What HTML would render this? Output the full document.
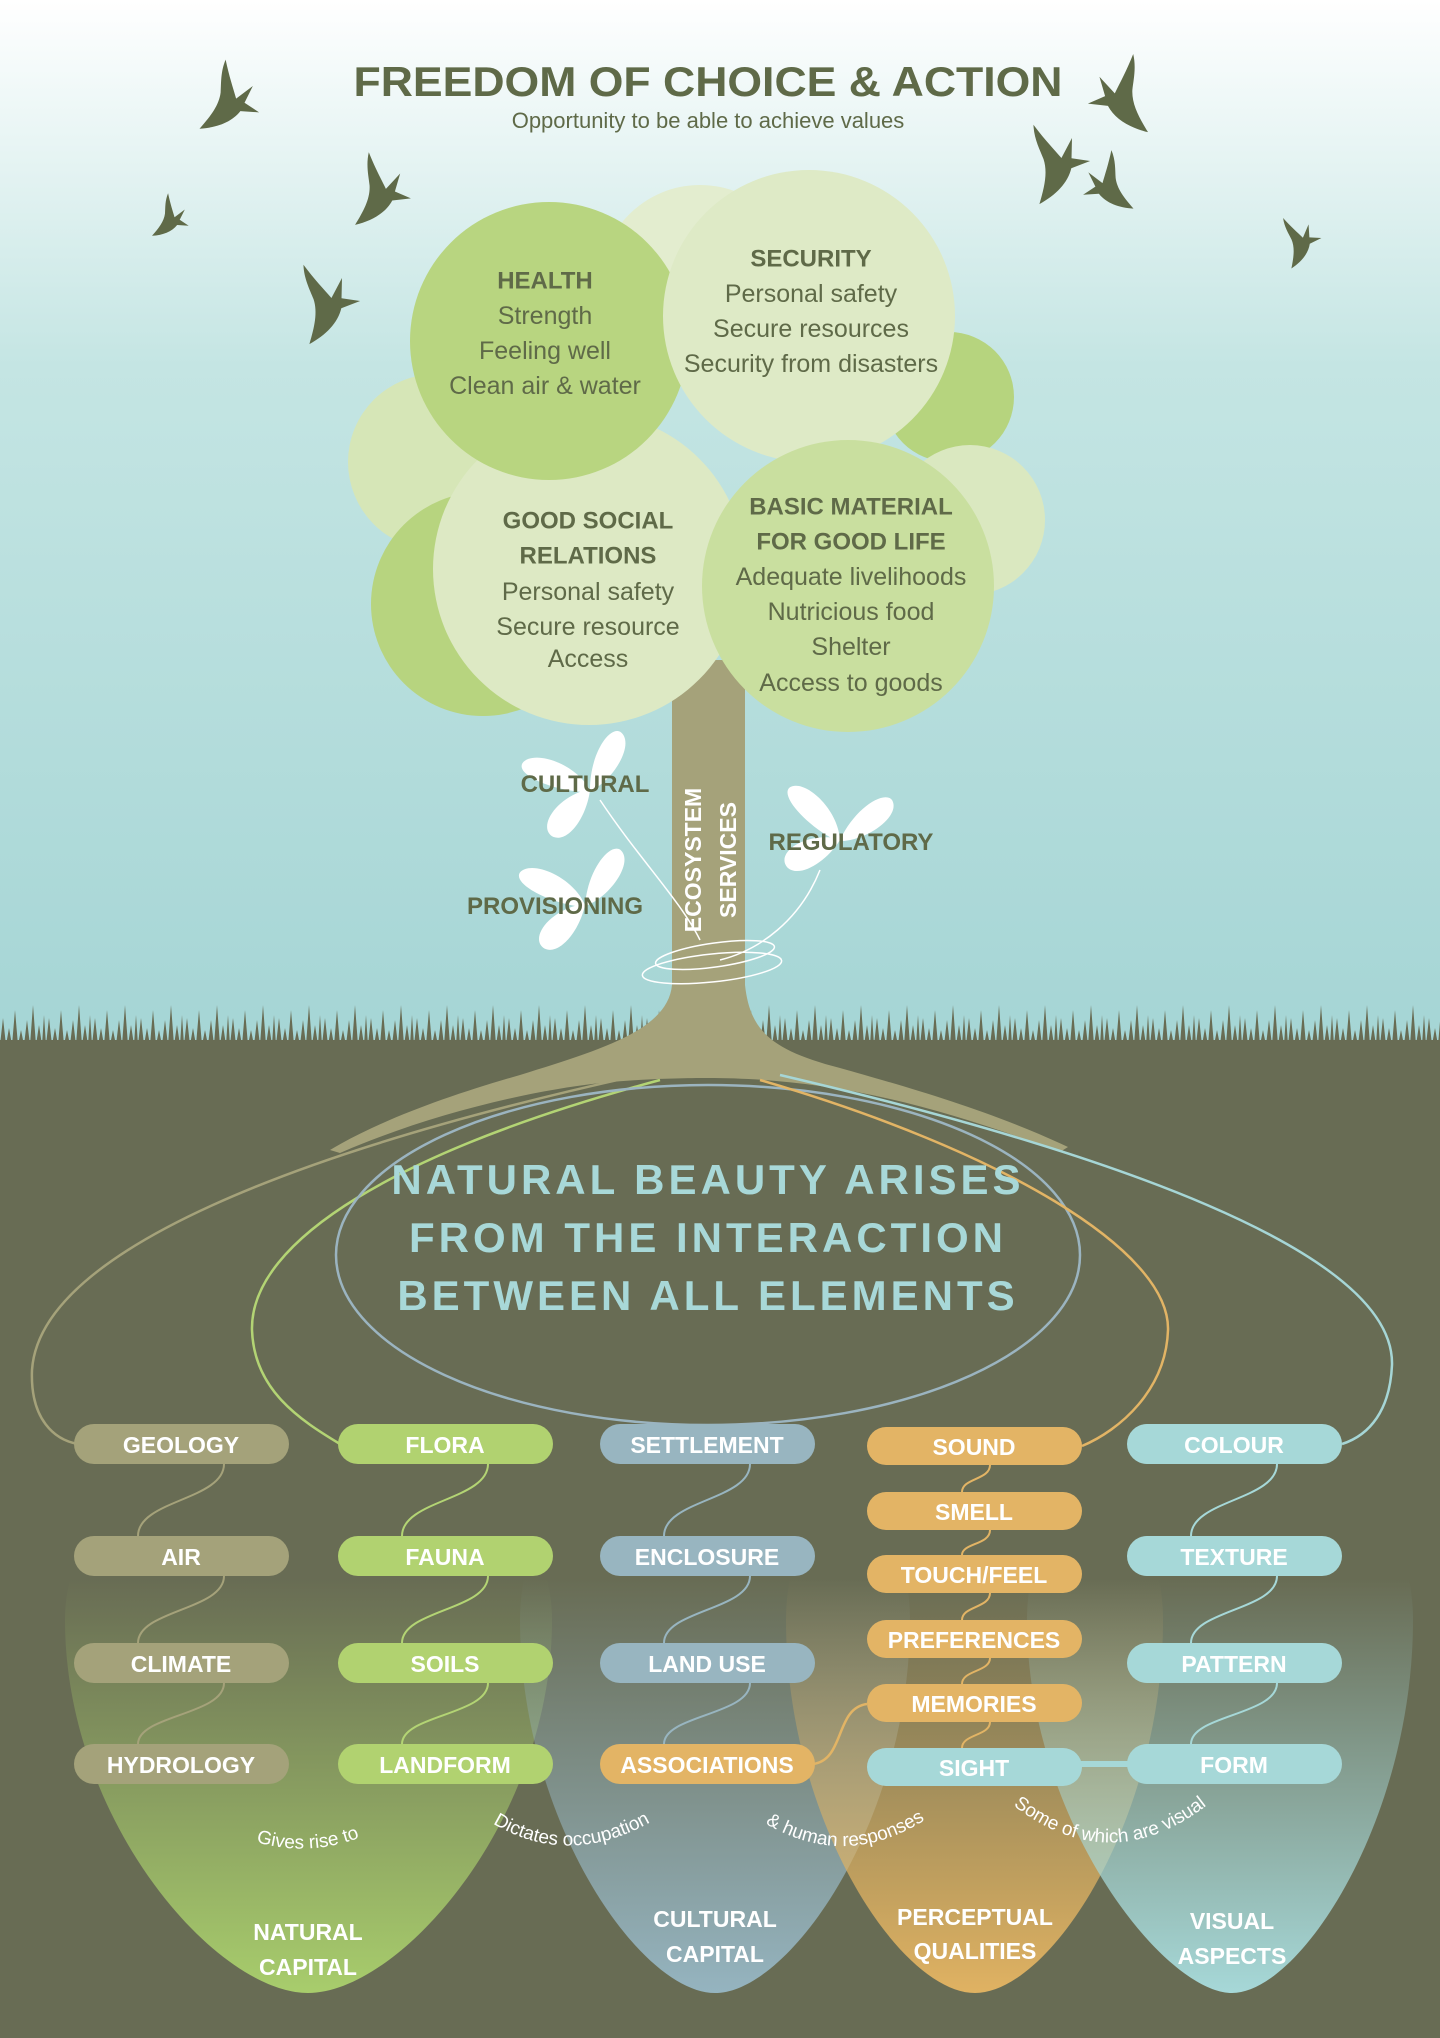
<!DOCTYPE html>
<html><head><meta charset="utf-8"><style>
html,body{margin:0;padding:0;}
body{width:1440px;height:2038px;overflow:hidden;}
svg{display:block;}
.h{font-family:"Liberation Sans",sans-serif;font-weight:bold;fill:#5f6a48;}
.b{font-family:"Liberation Sans",sans-serif;fill:#5f6a48;}
.p{font-family:"Liberation Sans",sans-serif;font-weight:bold;fill:#fff;font-size:23px;}
.w{font-family:"Liberation Sans",sans-serif;fill:#fff;font-size:19px;}
</style></head><body>
<svg width="1440" height="2038" viewBox="0 0 1440 2038" xmlns="http://www.w3.org/2000/svg">
<defs>
<linearGradient id="sky" x1="0" y1="0" x2="0" y2="1">
<stop offset="0" stop-color="#ffffff"/><stop offset="0.35" stop-color="#c4e5e3"/><stop offset="1" stop-color="#a5d5d5"/>
</linearGradient>
<pattern id="grass" x="0" y="1000" width="46" height="45" patternUnits="userSpaceOnUse">
<path d="M0,45 L3,18 L6,45 L9,28 L12,45 L15,10 L18,45 L21,30 L24,45 L27,20 L30,45 L33,5 L36,45 L39,25 L42,45 L44,15 L46,45 Z" fill="#686c54"/>
</pattern>
<linearGradient id="gG" x1="0" y1="0" x2="0" y2="1"><stop offset="0.25" stop-color="#a8cd6c" stop-opacity="0"/><stop offset="1" stop-color="#a8cd6c"/></linearGradient>
<linearGradient id="gB" x1="0" y1="0" x2="0" y2="1"><stop offset="0.25" stop-color="#95b4c0" stop-opacity="0"/><stop offset="1" stop-color="#95b4c0"/></linearGradient>
<linearGradient id="gO" x1="0" y1="0" x2="0" y2="1"><stop offset="0.25" stop-color="#e0b262" stop-opacity="0"/><stop offset="1" stop-color="#e0b262"/></linearGradient>
<linearGradient id="gT" x1="0" y1="0" x2="0" y2="1"><stop offset="0.25" stop-color="#a6d8d8" stop-opacity="0"/><stop offset="1" stop-color="#a6d8d8"/></linearGradient>
<g id="bird"><path d="M0,30 C12,26 22,22 28,14 C32,8 36,0 44,-6 C40,6 38,16 36,24 L52,22 L40,30 L46,42 L34,34 C24,38 12,36 0,30 Z" fill="#5f6a48"/></g>
<g id="bfly"><path d="M0,0 C-10,-30 -50,-50 -62,-38 C-70,-28 -40,-8 -10,0 C-40,6 -58,30 -44,40 C-30,48 -8,26 0,0 Z M0,0 C6,-35 30,-60 40,-52 C52,-40 30,-10 4,0 Z" fill="#fff"/></g>
<path id="a1" d="M230,1832 Q307,1868 385,1826"/>
<path id="a2" d="M468,1806 Q565,1885 676,1806"/>
<path id="a3" d="M748,1812 Q845,1882 942,1808"/>
<path id="a4" d="M995,1790 Q1110,1895 1225,1790"/>
</defs>
<rect width="1440" height="1045" fill="url(#sky)"/>
<rect x="0" y="1040" width="1440" height="998" fill="#686c54"/>
<rect x="0" y="1000" width="1440" height="45" fill="url(#grass)"/>

<use href="#bird" transform="translate(180,95) scale(1.3) rotate(-30)"/>
<use href="#bird" transform="translate(140,215) scale(0.8) rotate(-30)"/>
<use href="#bird" transform="translate(330,195) scale(1.3) rotate(-40)"/>
<use href="#bird" transform="translate(275,320) scale(1.4) rotate(-55)"/>
<use href="#bird" transform="translate(1005,180) scale(1.4) rotate(-55)"/>
<use href="#bird" transform="translate(1175,100) scale(1.4) rotate(40) scale(-1,1)"/>
<use href="#bird" transform="translate(1150,180) scale(1.1) rotate(30) scale(-1,1)"/>
<use href="#bird" transform="translate(1268,255) scale(0.9) rotate(-60)"/>

<text x="708" y="96" text-anchor="middle" class="h" font-size="42" textLength="709" lengthAdjust="spacingAndGlyphs">FREEDOM OF CHOICE &amp; ACTION</text>
<text x="708" y="128" text-anchor="middle" class="b" font-size="22">Opportunity to be able to achieve values</text>

<rect x="672" y="660" width="73" height="360" fill="#a5a27a"/>
<path d="M672,985 C668,1030 600,1050 520,1075 C450,1095 380,1120 330,1150 L340,1153 C420,1118 520,1092 600,1083 C640,1079 680,1078 708,1078 C740,1078 780,1080 820,1086 C900,1097 980,1122 1060,1152 L1068,1147 C990,1110 900,1085 840,1068 C770,1050 750,1030 745,985 Z" fill="#a5a27a"/>
<path d="M640,1075 C300,1150 40,1250 32,1370 C30,1420 55,1440 78,1444" fill="none" stroke="#a5a27a" stroke-width="2.5"/>
<path d="M660,1080 C400,1150 250,1240 252,1330 C254,1390 300,1420 340,1444" fill="none" stroke="#b3d474" stroke-width="2.5"/>
<ellipse cx="708" cy="1255" rx="372" ry="170" fill="none" stroke="#9bb4c0" stroke-width="2.5"/>
<path d="M760,1080 C1000,1150 1170,1250 1168,1330 C1166,1390 1120,1430 1082,1446" fill="none" stroke="#e2b465" stroke-width="2.5"/>
<path d="M780,1075 C1100,1150 1395,1250 1392,1365 C1390,1410 1370,1435 1342,1444" fill="none" stroke="#a6d6d6" stroke-width="2.5"/>

<g font-family="Liberation Sans,sans-serif" font-weight="bold" font-size="42" fill="#a8d8d8" text-anchor="middle" letter-spacing="4">
<text x="708" y="1194">NATURAL BEAUTY ARISES</text>
<text x="708" y="1252">FROM THE INTERACTION</text>
<text x="708" y="1310">BETWEEN ALL ELEMENTS</text>
</g>

<path d="M65,1620 C65,1380 552,1380 552,1620 C552,1820 400,1993 308,1993 C216,1993 65,1820 65,1620 Z" fill="url(#gG)"/>
<path d="M520,1620 C520,1380 910,1380 910,1620 C910,1820 790,1993 715,1993 C640,1993 520,1820 520,1620 Z" fill="url(#gB)"/>
<path d="M786,1620 C786,1380 1163,1380 1163,1620 C1163,1820 1050,1993 975,1993 C900,1993 786,1820 786,1620 Z" fill="url(#gO)"/>
<path d="M1027,1620 C1027,1380 1413,1380 1413,1620 C1413,1820 1300,1993 1232,1993 C1164,1993 1027,1820 1027,1620 Z" fill="url(#gT)"/>

<g fill="none" stroke-width="2">
<path d="M224,1464 C224,1500 138,1500 138,1536 M224,1576 C224,1610 138,1610 138,1643 M224,1683 C224,1715 138,1715 138,1744" stroke="#a5a27a"/>
<path d="M488,1464 C488,1500 402,1500 402,1536 M488,1576 C488,1610 402,1610 402,1643 M488,1683 C488,1715 402,1715 402,1744" stroke="#b3d474"/>
<path d="M750,1464 C750,1500 664,1500 664,1536 M750,1576 C750,1610 664,1610 664,1643 M750,1683 C750,1715 664,1715 664,1744" stroke="#98b5c0"/>
<path d="M1277,1464 C1277,1500 1191,1500 1191,1536 M1277,1576 C1277,1610 1191,1610 1191,1643 M1277,1683 C1277,1715 1191,1715 1191,1744" stroke="#a6d8d8"/>
<path d="M990,1465 C990,1480 962,1478 962,1492 M990,1530 C990,1545 962,1543 962,1555 M990,1593 C990,1608 962,1606 962,1620 M990,1658 C990,1672 962,1670 962,1684 M990,1722 C990,1736 962,1734 962,1748" stroke="#e2b465"/>
<path d="M813,1764 C845,1760 835,1708 867,1704" stroke="#e2b465" stroke-width="2.5"/>
</g>
<rect x="1078" y="1761" width="54" height="6" fill="#a6d8d8"/>

<g>
<rect x="74" y="1424" width="215" height="40" rx="20" fill="#a4a27a"/>
<rect x="74" y="1536" width="215" height="40" rx="20" fill="#a4a27a"/>
<rect x="74" y="1643" width="215" height="40" rx="20" fill="#a4a27a"/>
<rect x="74" y="1744" width="215" height="40" rx="20" fill="#a4a27a"/>
<rect x="338" y="1424" width="215" height="40" rx="20" fill="#b1d270"/>
<rect x="338" y="1536" width="215" height="40" rx="20" fill="#b1d270"/>
<rect x="338" y="1643" width="215" height="40" rx="20" fill="#b1d270"/>
<rect x="338" y="1744" width="215" height="40" rx="20" fill="#b1d270"/>
<rect x="600" y="1424" width="215" height="40" rx="20" fill="#98b5c0"/>
<rect x="600" y="1536" width="215" height="40" rx="20" fill="#98b5c0"/>
<rect x="600" y="1643" width="215" height="40" rx="20" fill="#98b5c0"/>
<rect x="600" y="1744" width="215" height="40" rx="20" fill="#e3b465"/>
<rect x="867" y="1427" width="215" height="38" rx="19" fill="#e3b465"/>
<rect x="867" y="1492" width="215" height="38" rx="19" fill="#e3b465"/>
<rect x="867" y="1555" width="215" height="38" rx="19" fill="#e3b465"/>
<rect x="867" y="1620" width="215" height="38" rx="19" fill="#e3b465"/>
<rect x="867" y="1684" width="215" height="38" rx="19" fill="#e3b465"/>
<rect x="867" y="1748" width="215" height="38" rx="19" fill="#a6d8d8"/>
<rect x="1127" y="1424" width="215" height="40" rx="20" fill="#a6d8d8"/>
<rect x="1127" y="1536" width="215" height="40" rx="20" fill="#a6d8d8"/>
<rect x="1127" y="1643" width="215" height="40" rx="20" fill="#a6d8d8"/>
<rect x="1127" y="1744" width="215" height="40" rx="20" fill="#a6d8d8"/>
</g>
<g class="p" text-anchor="middle" dominant-baseline="central">
<text x="181" y="1445">GEOLOGY</text><text x="181" y="1557">AIR</text><text x="181" y="1664">CLIMATE</text><text x="181" y="1765">HYDROLOGY</text>
<text x="445" y="1445">FLORA</text><text x="445" y="1557">FAUNA</text><text x="445" y="1664">SOILS</text><text x="445" y="1765">LANDFORM</text>
<text x="707" y="1445">SETTLEMENT</text><text x="707" y="1557">ENCLOSURE</text><text x="707" y="1664">LAND USE</text><text x="707" y="1765">ASSOCIATIONS</text>
<text x="974" y="1447">SOUND</text><text x="974" y="1512">SMELL</text><text x="974" y="1575">TOUCH/FEEL</text><text x="974" y="1640">PREFERENCES</text><text x="974" y="1704">MEMORIES</text><text x="974" y="1768">SIGHT</text>
<text x="1234" y="1445">COLOUR</text><text x="1234" y="1557">TEXTURE</text><text x="1234" y="1664">PATTERN</text><text x="1234" y="1765">FORM</text>
</g>

<g class="w" text-anchor="middle">
<text><textPath href="#a1" startOffset="50%">Gives rise to</textPath></text>
<text><textPath href="#a2" startOffset="50%">Dictates  occupation</textPath></text>
<text><textPath href="#a3" startOffset="50%">&amp; human responses</textPath></text>
<text><textPath href="#a4" startOffset="50%">Some of which are visual</textPath></text>
</g>
<g class="p" font-size="26" text-anchor="middle">
<text x="308" y="1940">NATURAL</text><text x="308" y="1975">CAPITAL</text>
<text x="715" y="1927">CULTURAL</text><text x="715" y="1962">CAPITAL</text>
<text x="975" y="1925">PERCEPTUAL</text><text x="975" y="1959">QUALITIES</text>
<text x="1232" y="1929">VISUAL</text><text x="1232" y="1964">ASPECTS</text>
</g>

<circle cx="700" cy="285" r="100" fill="#e3edcf"/>
<circle cx="436" cy="462" r="88" fill="#d6e6b7"/>
<circle cx="483" cy="604" r="112" fill="#b7d47f"/>
<circle cx="949" cy="397" r="65" fill="#b6d47e"/>
<circle cx="970" cy="520" r="75" fill="#dae8c0"/>
<circle cx="589" cy="569" r="156" fill="#dde9c4"/>
<circle cx="549" cy="341" r="139" fill="#b8d580"/>
<circle cx="809" cy="316" r="146" fill="#deeac6"/>
<circle cx="848" cy="586" r="146" fill="#c9df9f"/>

<g text-anchor="middle" dominant-baseline="central">
<text x="545" y="281" class="h" font-size="24">HEALTH</text>
<text x="545" y="316" class="b" font-size="25">Strength</text>
<text x="545" y="351" class="b" font-size="25">Feeling well</text>
<text x="545" y="386" class="b" font-size="25">Clean air &amp; water</text>
<text x="811" y="259" class="h" font-size="24">SECURITY</text>
<text x="811" y="294" class="b" font-size="25">Personal safety</text>
<text x="811" y="329" class="b" font-size="25">Secure resources</text>
<text x="811" y="364" class="b" font-size="25">Security from disasters</text>
<text x="588" y="521" class="h" font-size="24">GOOD SOCIAL</text>
<text x="588" y="556" class="h" font-size="24">RELATIONS</text>
<text x="588" y="592" class="b" font-size="25">Personal safety</text>
<text x="588" y="627" class="b" font-size="25">Secure resource</text>
<text x="588" y="659" class="b" font-size="25">Access</text>
<text x="851" y="507" class="h" font-size="24">BASIC MATERIAL</text>
<text x="851" y="542" class="h" font-size="24">FOR GOOD LIFE</text>
<text x="851" y="577" class="b" font-size="25">Adequate livelihoods</text>
<text x="851" y="612" class="b" font-size="25">Nutricious food</text>
<text x="851" y="647" class="b" font-size="25">Shelter</text>
<text x="851" y="683" class="b" font-size="25">Access to goods</text>
</g>

<use href="#bfly" transform="translate(590,790) rotate(-10)"/>
<use href="#bfly" transform="translate(585,905) rotate(-5)"/>
<use href="#bfly" transform="translate(840,840) rotate(15)"/>
<g fill="none" stroke="#fff" stroke-width="1.5">
<ellipse cx="715" cy="955" rx="60" ry="12" transform="rotate(-8 715 955)"/>
<ellipse cx="712" cy="968" rx="70" ry="14" transform="rotate(-6 712 968)"/>
<path d="M600,800 C640,860 680,900 700,940"/>
<path d="M820,870 C800,920 760,950 720,960"/>
</g>
<g class="h" font-size="24" text-anchor="middle">
<text x="585" y="792">CULTURAL</text>
<text x="555" y="914">PROVISIONING</text>
<text x="851" y="850">REGULATORY</text>
</g>
<g font-family="Liberation Sans,sans-serif" font-weight="bold" font-size="23" fill="#fff" text-anchor="middle">
<text transform="translate(701,860) rotate(-90)">ECOSYSTEM</text>
<text transform="translate(736,860) rotate(-90)">SERVICES</text>
</g>
</svg>
</body></html>
